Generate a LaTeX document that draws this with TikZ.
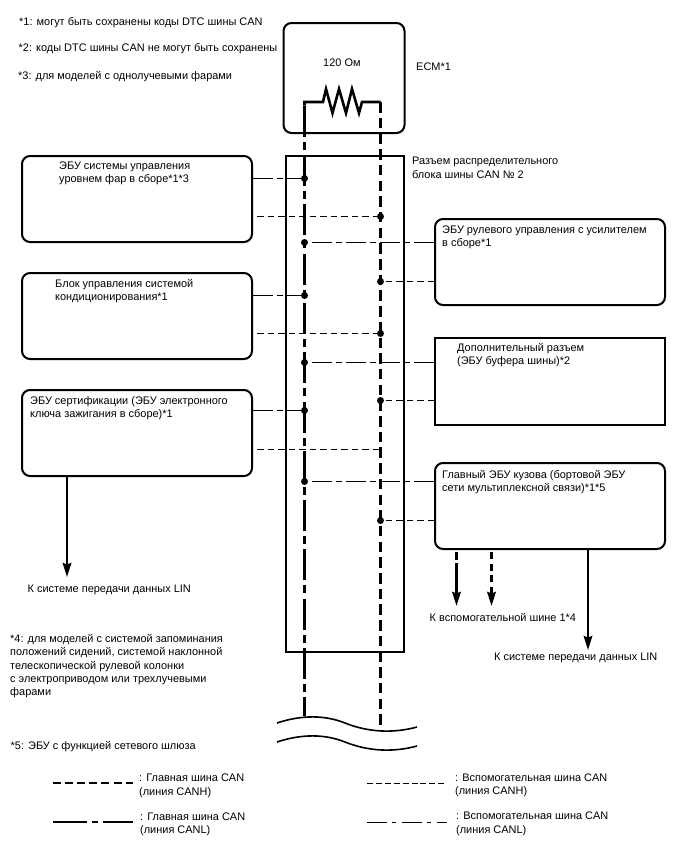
\documentclass[tikz,border=0pt]{standalone}
\usepackage{fontspec}
\setmainfont{Liberation Sans}
\usetikzlibrary{arrows.meta,calc}
\tikzset{
  x=1pt, y=-1pt,
  lbl/.style={inner sep=0pt, anchor=west, align=left, yshift=-1.3pt, font=\fontsize{10.95}{13.3}\selectfont},
  ecu/.style={draw, line width=2pt, rounded corners=8pt, anchor=north west, inner sep=0pt},
  plainbox/.style={draw, line width=2pt, anchor=north west, inner sep=0pt},
  junction/.style={circle, fill=black, inner sep=0pt, minimum size=7pt},
  busL/.style={line width=2.6pt, dash pattern=on 31pt off 5pt on 8pt off 5.3pt},
  busH/.style={line width=2.6pt, dash pattern=on 10.5pt off 5.2pt},
  tapL/.style={line width=1.5pt, dash pattern=on 20pt off 4pt on 6pt off 4pt},
  tapH/.style={line width=1.5pt, dash pattern=on 6.5pt off 4pt},
  lead/.style={line width=2.4pt, -{Stealth[length=14pt,width=8.5pt,inset=1.5pt]}},
}
\begin{document}
\begin{tikzpicture}
\useasboundingbox (0,0) rectangle (688,852);

% bus junction rows
\foreach \n/\yy in {a/178.5,b/242.5,c/295.5,d/362.5,e/410.5,f/481.5}
  \node[junction] (L\n) at (304.5,\yy) {};
\foreach \n/\yy in {a/216.5,b/281.5,c/333.5,d/400.5,e/520.5}
  \node[junction] (R\n) at (380.5,\yy) {};

% modules
\node[ecu, minimum width=121pt, minimum height=110pt] (ecm) at (282.5,22) {};
\node[ecu, minimum width=230pt, minimum height=86pt] (hl) at (21,155) {};
\node[ecu, minimum width=230pt, minimum height=86pt] (ac) at (21,272) {};
\node[ecu, minimum width=230pt, minimum height=86pt] (cert) at (21,389) {};
\node[ecu, minimum width=230pt, minimum height=86pt] (eps) at (434,218) {};
\node[plainbox, minimum width=230pt, minimum height=87pt] (buf) at (434,337) {};
\node[ecu, minimum width=230pt, minimum height=86pt] (body) at (434,462) {};
\node[plainbox, minimum width=118pt, minimum height=496pt] (jb) at (285,155) {};

% terminating resistor and the two bus lines
\coordinate (tl) at (304.5,102);
\coordinate (tr) at (380.5,102);
\coordinate (lstart) at (304.5,105.7);
\coordinate (lend) at (304.5,716);
\coordinate (rend) at (380.5,726);
\draw[line width=2.6pt, line join=miter] (lstart) -- (tl) -- (323,102) -- (326,89) -- (332.5,113) -- (339,89) -- (346,113) -- (352,89) -- (359,113) -- (362,102) -- (tr);
\draw[busL] (lstart) -- (lend);
\draw[busH] (tr) -- (rend);

% stubs from the modules to the bus
\draw[tapL] (hl.east |- La) -- (La);
\draw[tapH] ($(hl.east |- Ra)+(4,0)$) -- (Ra);
\draw[tapL] (eps.west |- Lb) -- (Lb);
\draw[tapH] (eps.west |- Rb) -- (Rb);
\draw[tapL] (ac.east |- Lc) -- (Lc);
\draw[tapH] ($(ac.east |- Rc)+(4,0)$) -- (Rc);
\draw[tapL] (buf.west |- Ld) -- (Ld);
\draw[tapH] (buf.west |- Rd) -- (Rd);
\draw[tapL] (cert.east |- Le) -- (Le);
\draw[tapH] ($(cert.east |- Rd)+(4,49)$) -- ($(Rd)+(0,49)$);
\draw[tapL] (body.west |- Lf) -- (Lf);
\draw[tapH] (body.west |- Re) -- (Re);

% outgoing lines
\coordinate (linA) at (67,577);
\draw[lead] (cert.south -| linA) -- (linA);
\coordinate (linB) at (588,650);
\draw[lead] (body.south -| linB) -- (linB);
\coordinate (subLs) at (456.5,552);
\coordinate (subLe) at (456.5,606);
\draw[lead, line width=2.8pt, dash pattern=on 8pt off 3pt on 60pt] (subLs) -- (subLe);
\coordinate (subHs) at (491.5,552);
\coordinate (subHe) at (491.5,606);
\draw[lead, line width=2.8pt, dash pattern=on 7pt off 4.5pt] (subHs) -- (subHe);

% break symbol
\coordinate (w1a) at (277,723);
\coordinate (w1b) at (417,727);
\draw[line width=1.6pt] (w1a) .. controls (295,717) and (320,713) .. (345,723) .. controls (370,733) and (395,733) .. (w1b);
\coordinate (w2a) at (277,742);
\coordinate (w2b) at (417,746);
\draw[line width=1.6pt] (w2a) .. controls (295,736) and (320,732) .. (345,742) .. controls (370,752) and (395,752) .. (w2b);

% labels
\node[lbl] (n1) at (19,21) {*1: могут быть сохранены коды DTC шины CAN};
\node[lbl] (n2) at (18.5,47.5) {*2: коды DTC шины CAN не могут быть сохранены};
\node[lbl] (n3) at (18,75) {*3: для моделей с однолучевыми фарами};
\node[lbl] (tr120) at (323,61) {120 Ом};
\node[lbl] (ecmt) at (416,65.5) {ECM*1};
\node[lbl] (jbt) at (412,166.5) {Разъем распределительного\\блока шины CAN № 2};
\node[lbl] (hlt) at (59,172) {ЭБУ системы управления\\уровнем фар в сборе*1*3};
\node[lbl] (act) at (55,290) {Блок управления системой\\кондиционирования*1};
\node[lbl] (certt) at (30,407) {ЭБУ сертификации (ЭБУ электронного\\ключа зажигания в сборе)*1};
\node[lbl] (lina) at (27.5,589) {К системе передачи данных LIN};
\node[lbl] (epst) at (442,236) {ЭБУ рулевого управления с усилителем\\в сборе*1};
\node[lbl] (buft) at (457,354) {Дополнительный разъем\\(ЭБУ буфера шины)*2};
\node[lbl] (bodyt) at (442,481) {Главный ЭБУ кузова (бортовой ЭБУ\\сети мультиплексной связи)*1*5};
\node[lbl] (sub) at (429.5,616) {К вспомогательной шине 1*4};
\node[lbl] (linb) at (494,657) {К системе передачи данных LIN};
\node[lbl] (n4) at (10,665) {*4: для моделей с системой запоминания\\положений сидений, системой наклонной\\телескопической рулевой колонки\\с электроприводом или трехлучевыми\\фарами};
\node[lbl] (n5) at (10.5,745) {*5: ЭБУ с функцией сетевого шлюза};

% legend
\coordinate (k1a) at (53,783); \coordinate (k1b) at (133,783);
\coordinate (k2a) at (53,822); \coordinate (k2b) at (133,822);
\coordinate (k3a) at (367,783.5); \coordinate (k3b) at (447,783.5);
\coordinate (k4a) at (367,822.5); \coordinate (k4b) at (447,822.5);
\draw[line width=2.6pt, dash pattern=on 8pt off 4.1pt] (k1a) -- (k1b);
\draw[line width=2.6pt, dash pattern=on 34pt off 5pt on 6pt off 5pt] (k2a) -- (k2b);
\draw[line width=1.2pt, dash pattern=on 6pt off 2.9pt] (k3a) -- (k3b);
\draw[line width=1.2pt, dash pattern=on 20pt off 5pt on 4pt off 6pt] (k4a) -- (k4b);
\node[lbl] (k1t) at (139,784.5) {: Главная шина CAN\\(линия CANH)};
\node[lbl] (k2t) at (140,823) {: Главная шина CAN\\(линия CANL)};
\node[lbl] (k3t) at (455,784) {: Вспомогательная шина CAN\\(линия CANH)};
\node[lbl] (k4t) at (456,822.5) {: Вспомогательная шина CAN\\(линия CANL)};
\end{tikzpicture}
\end{document}
